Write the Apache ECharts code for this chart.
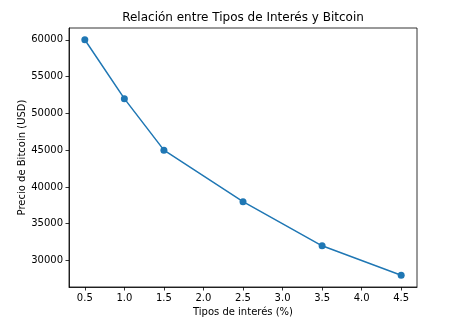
<!DOCTYPE html>
<html>
<head>
<meta charset="utf-8">
<script src="https://cdn.jsdelivr.net/npm/echarts@6/dist/echarts.min.js"></script>
<style>
  html, body { margin: 0; padding: 0; background: #fff; }
  #chart { width: 452px; height: 322px; }
</style>
</head>
<body>
<div id="chart"></div>
<script>
// Interest rate (%) against Bitcoin price (USD)
const rates = [0.5, 1.0, 1.5, 2.5, 3.5, 4.5];
const prices = [60000, 52000, 45000, 38000, 32000, 28000];
const xTicks = [0.5, 1.0, 1.5, 2.0, 2.5, 3.0, 3.5, 4.0, 4.5];
const yTicks = [30000, 35000, 40000, 45000, 50000, 55000, 60000];

const FONT = 'DejaVu Sans';
const BLUE = '#1f77b4';

// axis limits with 5% padding around the data
const xPad = (Math.max(...rates) - Math.min(...rates)) * 0.05;
const yPad = (Math.max(...prices) - Math.min(...prices)) * 0.05;

const grid = { left: 69, right: 35, top: 28, bottom: 35 };
const plotCenterX = grid.left + (452 - grid.left - grid.right) / 2;

const chart = echarts.init(document.getElementById('chart'), null, { renderer: 'canvas' });

const axisCommon = {
  axisLine: { show: true, onZero: false, lineStyle: { color: '#000', width: 0.8 } },
  axisTick: { show: true, inside: false, length: 3.5, lineStyle: { color: '#000', width: 0.8 } },
  splitLine: { show: false },
  nameMoveOverlap: false,
  nameTextStyle: { fontFamily: FONT, fontSize: 10, color: '#000' }
};

chart.setOption({
  animation: false,
  backgroundColor: '#fff',
  grid: Object.assign({ containLabel: false, show: true, borderColor: '#000', borderWidth: 0.8 }, grid),
  graphic: [{
    type: 'text',
    x: plotCenterX,
    y: 18,
    style: {
      text: 'Relación entre Tipos de Interés y Bitcoin',
      font: '12px "DejaVu Sans"',
      fill: '#000',
      textAlign: 'center',
      textVerticalAlign: 'middle'
    }
  }],
  xAxis: Object.assign({}, axisCommon, {
    type: 'value',
    min: Math.min(...rates) - xPad,
    max: Math.max(...rates) + xPad,
    name: 'Tipos de interés (%)',
    nameLocation: 'middle',
    nameGap: 20,
    axisTick: Object.assign({}, axisCommon.axisTick, { customValues: xTicks }),
    axisLabel: {
      customValues: xTicks,
      margin: 6,
      fontFamily: FONT, fontSize: 10, color: '#000',
      formatter: v => v.toFixed(1)
    }
  }),
  yAxis: Object.assign({}, axisCommon, {
    type: 'value',
    min: Math.min(...prices) - yPad,
    max: Math.max(...prices) + yPad,
    name: 'Precio de Bitcoin (USD)',
    nameLocation: 'middle',
    nameGap: 42,
    axisTick: Object.assign({}, axisCommon.axisTick, { customValues: yTicks }),
    axisLabel: {
      customValues: yTicks,
      margin: 6,
      fontFamily: FONT, fontSize: 10, color: '#000',
      formatter: v => String(v)
    }
  }),
  series: [{
    type: 'line',
    data: rates.map((r, i) => [r, prices[i]]),
    symbol: 'circle',
    symbolSize: 7,
    showSymbol: true,
    lineStyle: { color: BLUE, width: 1.5 },
    itemStyle: { color: BLUE, borderWidth: 0 }
  }]
});
</script>
</body>
</html>
